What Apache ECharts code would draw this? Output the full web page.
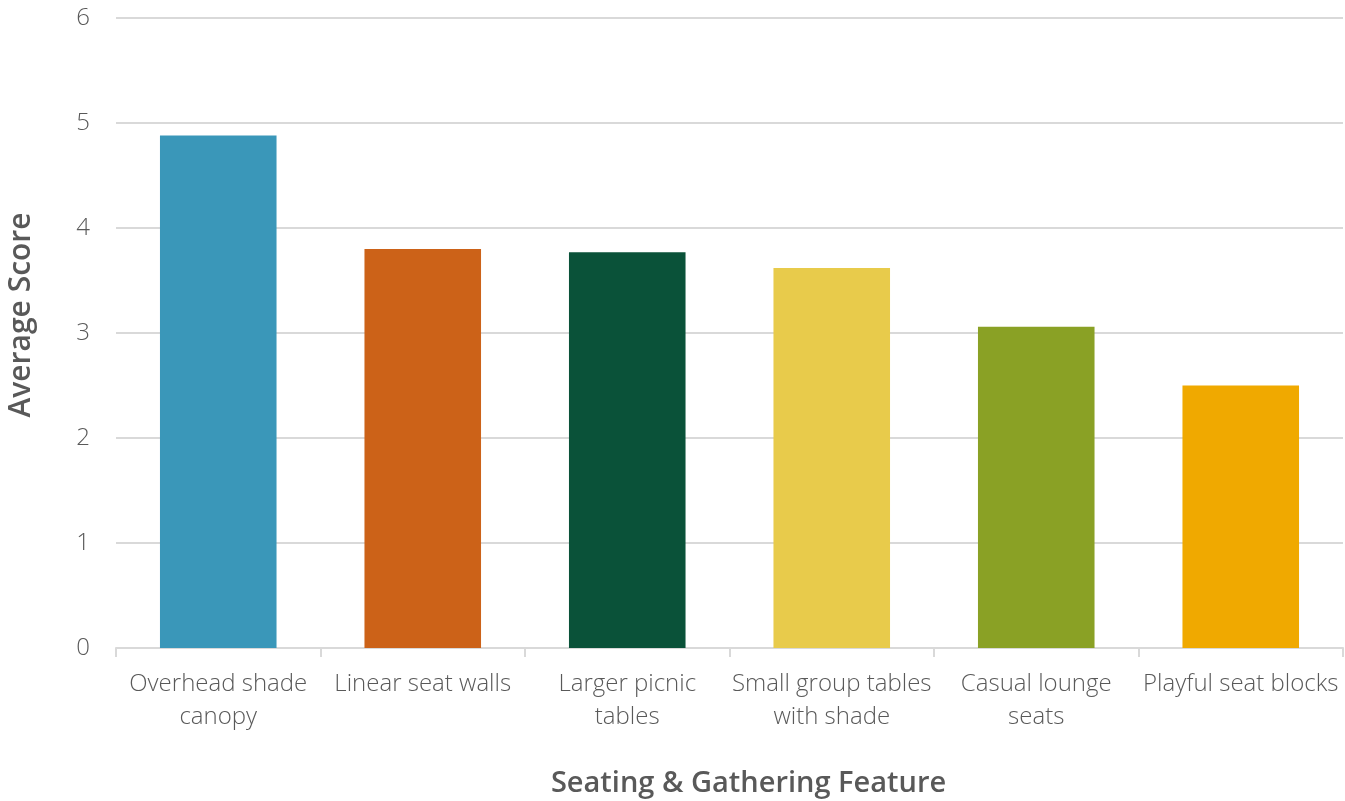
<!DOCTYPE html>
<html><head><meta charset="utf-8">
<script src="https://cdn.jsdelivr.net/npm/echarts@6/dist/echarts.min.js"></script>
<style>html,body{margin:0;padding:0;background:#fff}#c{width:1345px;height:801px}</style>
</head><body><div id="c"></div>
<script>
const categories = ["Overhead shade\ncanopy", "Linear seat walls", "Larger picnic\ntables", "Small group tables\nwith shade", "Casual lounge\nseats", "Playful seat blocks"];
const scores = [4.88, 3.80, 3.77, 3.62, 3.06, 2.50];
const barColors = ["#3A97B9", "#CC6218", "#0A5239", "#E8CB4B", "#8AA125", "#F0A900"];
const yTicks = [0, 1, 2, 3, 4, 5, 6];

const chart = echarts.init(document.getElementById('c'), null, {renderer: 'canvas'});
chart.setOption({
  animation: false,
  backgroundColor: '#fff',
  grid: {left: 116, right: 2, top: 18, bottom: 153, containLabel: false, outerBoundsMode: 'none'},
  xAxis: {
    type: 'category',
    data: categories,
    axisLine: {lineStyle: {color: '#d9d9d9', width: 2}},
    axisTick: {show: true, length: 9, lineStyle: {color: '#d9d9d9', width: 2}},
    axisLabel: {fontFamily: 'Open Sans', fontWeight: 300, fontSize: 24, color: '#595959', margin: 20, lineHeight: 33, interval: 0},
    name: 'Seating & Gathering Feature',
    nameLocation: 'middle',
    nameGap: 121,
    nameTextStyle: {fontFamily: 'Open Sans', fontWeight: 600, fontSize: 29, color: '#595959', padding: [0, 0, 0, 38]}
  },
  yAxis: {
    type: 'value',
    min: yTicks[0], max: yTicks[yTicks.length - 1], interval: 1,
    axisLine: {show: false},
    axisTick: {show: false},
    splitLine: {lineStyle: {color: '#d9d9d9', width: 2}},
    axisLabel: {fontFamily: 'Open Sans', fontWeight: 300, fontSize: 24, color: '#595959', margin: 26},
    name: 'Average Score',
    nameLocation: 'middle',
    nameGap: 80,
    nameTextStyle: {fontFamily: 'Open Sans', fontWeight: 600, fontSize: 30, color: '#595959', padding: [0, 0, 0, 36]}
  },
  series: [{
    type: 'bar',
    data: scores.map((v, i) => ({value: v, itemStyle: {color: barColors[i]}})),
    barWidth: '57%'
  }]
});
</script></body></html>
